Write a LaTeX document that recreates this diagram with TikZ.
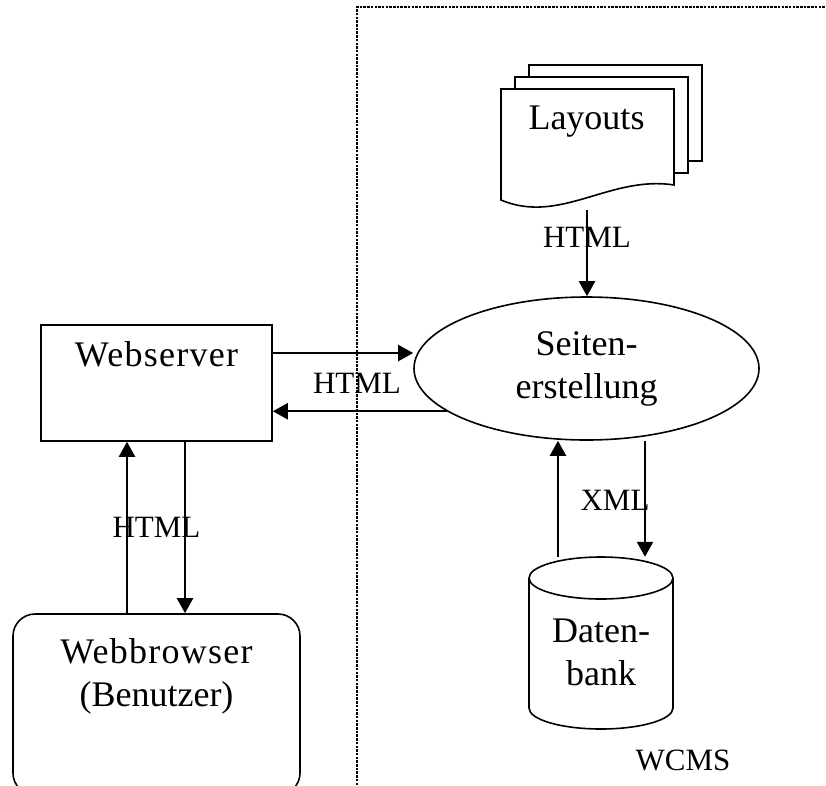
\documentclass[tikz,border=0pt]{standalone}
\usepackage{fontspec}
\setmainfont{Liberation Serif}
\usetikzlibrary{arrows.meta,positioning,shapes.geometric}

\newcommand{\spaced}[1]{{\addfontfeature{LetterSpace=3.5}#1}}

\begin{document}
\begin{tikzpicture}[x=1pt,y=-1pt,on grid,
	big/.style={font=\fontsize{36}{43}\selectfont,align=center},
	small/.style={font=\fontsize{31}{36}\selectfont,inner sep=0pt},
	box/.style={draw,line width=1.6pt,minimum width=231pt,minimum height=116pt},
	flow/.style={line width=2.3pt,-{Triangle[length=15pt,width=16pt]}},
	sheet/.style={draw,line width=1.6pt,fill=white},
	zone line/.style={line width=2.2pt,dash pattern=on 2.5pt off 1.2pt}]

	\useasboundingbox (0,0) rectangle (826,785);
	\clip (0,0) rectangle (826,785);

	% layout sheets
	\foreach \dx/\dy in {28/24,14/12}
		\draw[sheet] (501+\dx,89-\dy) rectangle ++(173,96);
	\draw[sheet] (501,89) -- (674,89) -- (674,185) .. controls (610,175) and (560,225) .. (501,200) -- cycle;

	\node[box,label={[big,anchor=north,inner sep=0pt,yshift=-17.5pt]north:\spaced{Webserver}}] (web) at (156.5,383) {};
	\node[box,rounded corners=22pt,minimum width=287pt,minimum height=181pt,
		label={[big,anchor=north,inner sep=0pt,yshift=-25pt]north:\spaced{Webbrowser}\\(Benutzer)}] (browser) [below=321.5pt of web] {};
	\node[ellipse,draw,line width=1.6pt,big,minimum width=345pt,minimum height=143pt,inner sep=0pt] (seite) [above right=14.5pt and 430pt of web] {Seiten-\\erstellung};
	\node[big] (layouts) [above=247pt of seite] {Layouts};
	\coordinate (layouts out) at (587,210);
	\node[big,minimum width=144pt,minimum height=190pt] (db) [below right=283.5pt and 14.5pt of seite] {Daten-\\bank};

	% database cylinder
	\draw[line width=1.6pt] (529,578) -- (529,708) arc[start angle=180,end angle=360,x radius=72pt,y radius=21pt] -- (673,578);
	\draw[line width=1.6pt] (601,578) ellipse[x radius=72pt,y radius=21pt];

	\draw[flow] (layouts out) -- node[small,pos=0.32] (html top) {HTML} (layouts out |- seite.north);

	\draw[flow] ([yshift=30pt]web.east) -- ([yshift=30pt]web.east -| seite.west);
	\draw[flow] (seite.197.6) -- (seite.197.6 -| web.east);
	\node[small] (html mid) at (357,383) {HTML};

	\draw[flow] ([xshift=-29.5pt]browser.north) -- ([xshift=-29.5pt]web.south);
	\draw[flow] ([xshift=28.5pt]web.south) -- ([xshift=28.5pt]browser.north);
	\path (web.south) -- node[small] (html low) {HTML} (browser.north);

	\draw[flow] ([xshift=-43pt]db.north) -- ([xshift=-43pt]db.north |- seite.south);
	\draw[flow] ([xshift=44pt]db.north |- seite.south) -- ([xshift=44pt]db.north);
	\node[small] (xml) at (615,500) {XML};
	\node[small] (wcms) at (683,760) {WCMS};

	\draw[zone line] (357,785) -- (357,7) -- (826,7);
\end{tikzpicture}
\end{document}
